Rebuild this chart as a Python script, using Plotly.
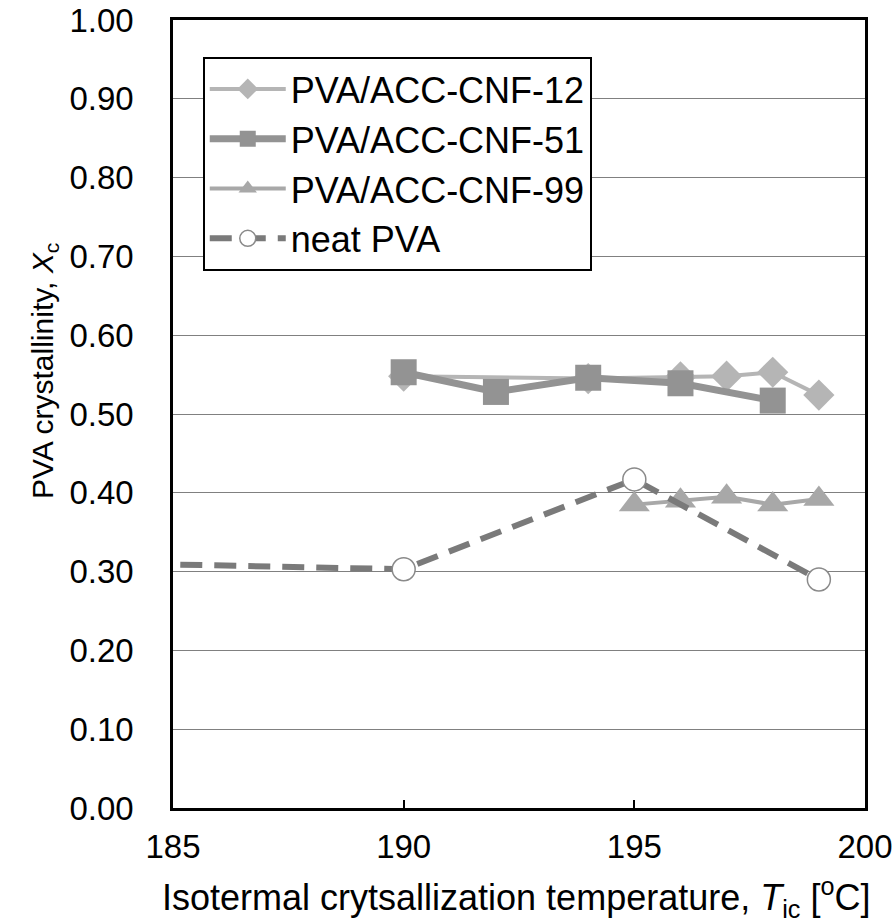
import plotly.graph_objects as go

# Data
x_cnf12 = [190, 194, 196, 197, 198, 199]
y_cnf12 = [0.548, 0.545, 0.547, 0.548, 0.553, 0.524]

x_cnf51 = [190, 192, 194, 196, 198]
y_cnf51 = [0.553, 0.528, 0.546, 0.539, 0.517]

x_cnf99 = [195, 196, 197, 198, 199]
y_cnf99 = [0.385, 0.390, 0.395, 0.385, 0.392]

x_neat = [180, 190, 195, 199]
y_neat = [0.315, 0.303, 0.417, 0.290]

names = ["PVA/ACC-CNF-12", "PVA/ACC-CNF-51", "PVA/ACC-CNF-99", "neat PVA"]
x_ticks = [185, 190, 195, 200]
y_ticks = [0.0, 0.1, 0.2, 0.3, 0.4, 0.5, 0.6, 0.7, 0.8, 0.9, 1.0]

FONT = "Liberation Sans, Arial, Helvetica, sans-serif"

fig = go.Figure()
fig.add_trace(go.Scatter(
    x=x_cnf12, y=y_cnf12, name=names[0], mode="lines+markers",
    line=dict(color="#b5b5b5", width=4),
    marker=dict(symbol="diamond", size=24, color="#b5b5b5"),
))
fig.add_trace(go.Scatter(
    x=x_cnf51, y=y_cnf51, name=names[1], mode="lines+markers",
    line=dict(color="#939393", width=7),
    marker=dict(symbol="square", size=26, color="#939393"),
))
fig.add_trace(go.Scatter(
    x=x_cnf99, y=y_cnf99, name=names[2], mode="lines+markers",
    line=dict(color="#a8a8a8", width=4),
    marker=dict(symbol="triangle-up", size=27, color="#a8a8a8"),
))
fig.add_trace(go.Scatter(
    x=x_neat, y=y_neat, name=names[3], mode="lines+markers",
    line=dict(color="#7a7a7a", width=6, dash="22px,12px"),
    marker=dict(symbol="circle", size=23, color="white",
                line=dict(color="#8a8a8a", width=1.5)),
))

fig.update_layout(
    width=896, height=923,
    margin=dict(l=173, r=31, t=20, b=115),
    paper_bgcolor="white", plot_bgcolor="white",
    font=dict(family=FONT, color="black"),
    showlegend=True,
    legend=dict(
        x=0.043, y=0.953, xanchor="left", yanchor="top",
        bgcolor="white", bordercolor="black", borderwidth=2,
        font=dict(size=36, family=FONT, color="black"),
        itemsizing="trace", itemwidth=76, tracegroupgap=0,
    ),
    xaxis=dict(
        range=[185, 200], tickvals=x_ticks, ticktext=[str(v) for v in x_ticks],
        showgrid=False, zeroline=False, automargin=False,
        showline=True, linecolor="black", linewidth=2.5, mirror=True,
        ticks="inside", ticklen=8, tickwidth=1.5, tickcolor="black",
        tickfont=dict(size=33, family=FONT, color="black"),
        ticklabelstandoff=8,
    ),
    yaxis=dict(
        range=[0, 1.0], tickvals=y_ticks, ticktext=[f"{v:.2f}" for v in y_ticks],
        showgrid=True, gridcolor="#808080", gridwidth=1,
        zeroline=False, automargin=False,
        showline=True, linecolor="black", linewidth=2.5, mirror=True,
        ticks="", tickfont=dict(size=33, family=FONT, color="black"),
        ticklabelstandoff=30,
    ),
    annotations=[
        dict(text="PVA crystallinity, <i>X</i><sub>c</sub>", textangle=-90,
             xref="paper", yref="paper", x=-0.186, y=0.555,
             xanchor="center", yanchor="middle", showarrow=False,
             font=dict(size=30, family=FONT, color="black")),
        dict(text="Isotermal crytsallization temperature, <i>T</i><sub>ic</sub> [<sup>o</sup>C]",
             xref="paper", yref="paper", x=0.496, y=-0.114,
             xanchor="center", yanchor="middle", showarrow=False,
             font=dict(size=36, family=FONT, color="black")),
    ],
)

fig.write_html("out.html", config={"displayModeBar": False},
               post_script="document.body.style.margin='0';")
